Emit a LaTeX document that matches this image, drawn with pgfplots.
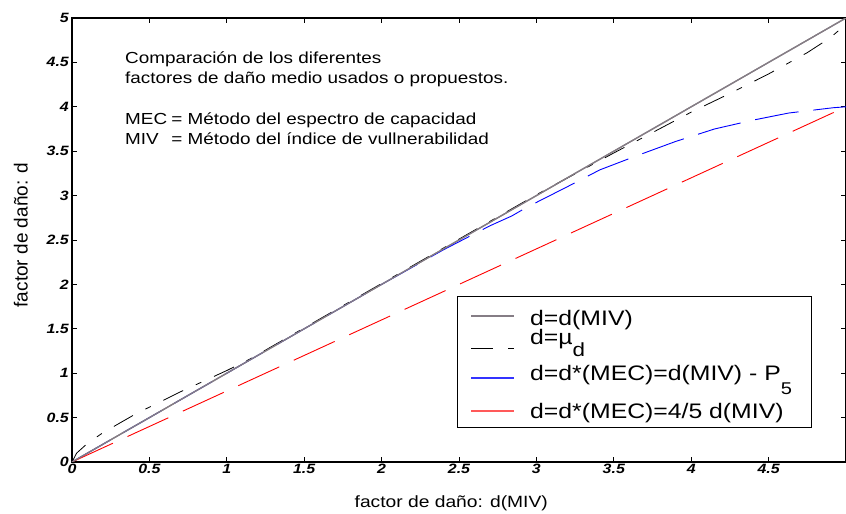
\documentclass[border=0pt]{standalone}
\usepackage{fontspec}
\setmainfont{Liberation Sans}
\usepackage{graphicx}
\usepackage{pgfplots}
\usepackage{pgfplotstable}
\pgfplotsset{compat=1.18}
\definecolor{mgray}{HTML}{857D85}
\newcommand{\hs}[1]{\scalebox{1.18}[1]{#1}}

% d = d(MIV)
\pgfplotstableread{
x y
0 0
5 5
}\tabmiv
% d = mu_d
\pgfplotstableread{
x y
0 0
0.03 0.10
0.10 0.21
0.20 0.33
0.30 0.43
0.42 0.55
0.55 0.66
0.70 0.79
0.80 0.87
0.90 0.95
1.00 1.03
1.15 1.16
1.50 1.51
2.00 2.01
2.50 2.51
3.00 3.01
3.50 3.48
3.75 3.71
4.00 3.94
4.25 4.15
4.50 4.37
4.75 4.61
4.90 4.78
4.96 4.87
5.00 5.00
}\tabmu
% d = d*(MEC) = d(MIV) - P5
\pgfplotstableread{
x y
0 0
1.00 1.00
2.00 2.00
2.40 2.39
2.70 2.66
2.84 2.77
2.94 2.87
3.20 3.10
3.41 3.29
3.65 3.45
3.90 3.61
4.15 3.75
4.40 3.85
4.63 3.93
4.92 3.99
5.00 4.00
}\tabpfive
% d = d*(MEC) = 4/5 d(MIV)
\pgfplotstableread{
x y
0 0
5 4
}\tabfour

\begin{document}
\begin{tikzpicture}
\useasboundingbox (-72pt,-52pt) rectangle (774pt,462pt);
\begin{axis}[
    at={(0pt,0pt)}, anchor=south west,
    width=774pt, height=444pt, scale only axis,
    xmin=0, xmax=5, ymin=0, ymax=5,
    xtick={0,0.5,1,1.5,2,2.5,3,3.5,4,4.5,5},
    xticklabels={\hs{0},\hs{0.5},\hs{1},\hs{1.5},\hs{2},\hs{2.5},\hs{3},\hs{3.5},\hs{4},\hs{4.5},},
    ytick={0,0.5,1,1.5,2,2.5,3,3.5,4,4.5,5},
    yticklabels={\hs{0},\hs{0.5},\hs{1},\hs{1.5},\hs{2},\hs{2.5},\hs{3},\hs{3.5},\hs{4},\hs{4.5},\hs{5}},
    ticklabel style={font=\fontsize{13.5}{14}\selectfont\bfseries\itshape},
    xticklabel style={inner sep=2pt},
    yticklabel style={inner sep=3pt},
    tick align=inside, major tick length=5pt,
    tick style={black, line width=0.8pt},
    axis line style={black, line width=1.4pt},
    xlabel={\hs{factor de daño: d(MIV)}},
    ylabel={factor de daño: d},
    xlabel style={font=\fontsize{16.3}{17}\selectfont, at={(axis description cs:0.49,-0.092)}, anchor=center},
    ylabel style={font=\fontsize{19}{20}\selectfont, at={(axis description cs:-0.066,0.511)}, anchor=center},
    clip=true,
]
\addplot[mgray, line width=1.3pt] table[x=x, y=y] {\tabmiv};
\addplot[black, line width=0.8pt, dash pattern=on 22pt off 14pt on 6pt off 14pt]
    table[x=x, y=y] {\tabmu};
\addplot[blue, line width=0.9pt, dash pattern=on 44pt off 15pt]
    table[x=x, y=y] {\tabpfive};
\addplot[red, line width=0.9pt, dash pattern=on 45pt off 16pt]
    table[x=x, y=y] {\tabfour};
% grey diagonal redrawn on top, as in the original
\addplot[mgray, line width=1.3pt] table[x=x, y=y] {\tabmiv};

\node[anchor=north west, inner sep=0pt, align=left,
      font=\fontsize{16}{20.3}\selectfont]
    at (axis description cs:0.0685,0.925)
    {\hs{Comparación de los diferentes}\\
     \hs{factores de daño medio usados o propuestos.}\\[20.3pt]
     \hs{\makebox[2.45em][l]{MEC}= Método del espectro de capacidad}\\
     \hs{\makebox[2.45em][l]{MIV}= Método del índice de vullnerabilidad}};
\end{axis}

% legend box (axis origin sits at (0,0), 1pt = 1px)
\draw[black, line width=1pt, fill=white] (385pt,34pt) rectangle (739pt,165pt);
\draw[mgray, line width=1.3pt] (399pt,146pt) -- (442pt,146pt);
\draw[black, line width=0.8pt, dash pattern=on 22pt off 15pt on 6pt off 20pt] (399pt,114pt) -- (442pt,114pt);
\draw[blue!80, line width=1.4pt] (399pt,84pt) -- (442pt,84pt);
\draw[red!65, line width=1.4pt] (399pt,51pt) -- (442pt,51pt);
\begin{scope}[every node/.style={anchor=base west, inner sep=0pt, font=\fontsize{21}{22}\selectfont}]
\node at (458pt,136pt) {\hs{d=d(MIV)}};
\node at (458pt,117pt) {\hs{d=µ\raisebox{-12pt}{\fontsize{19}{20}\selectfont d}}};
\node at (458pt,81pt) {\hs{d=d*(MEC)=d(MIV) - P\raisebox{-14pt}{\fontsize{17}{18}\selectfont 5}}};
\node at (458pt,43pt) {\hs{d=d*(MEC)=4/5 d(MIV)}};
\end{scope}
\end{tikzpicture}
\end{document}
